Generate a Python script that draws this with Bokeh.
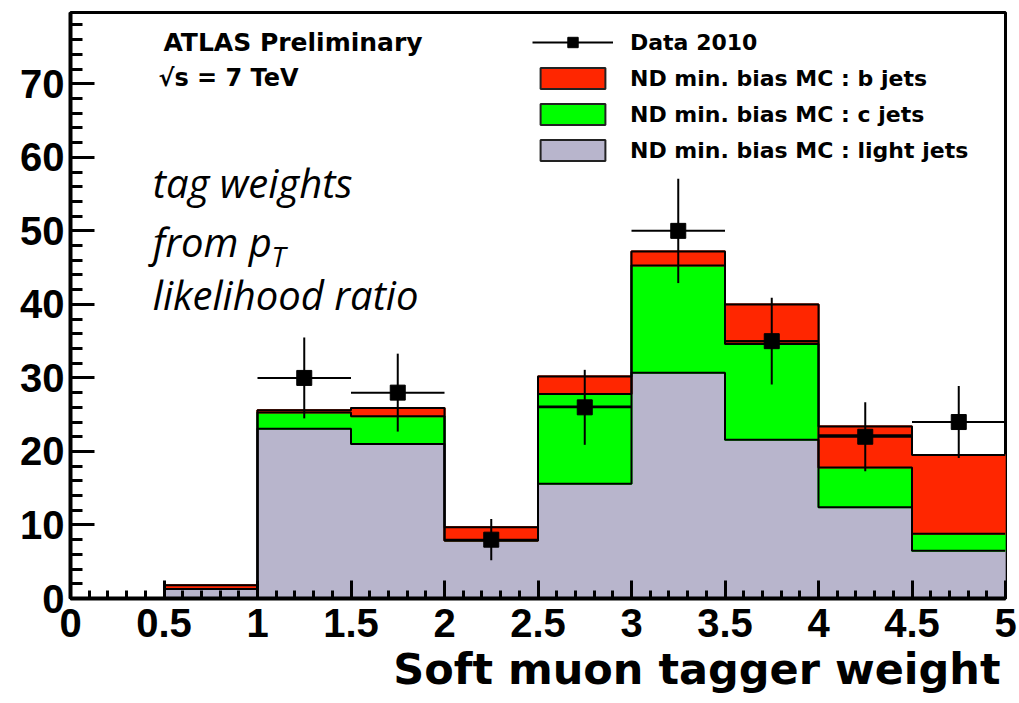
import math

from bokeh.plotting import figure
from bokeh.models import (Range1d, SingleIntervalTicker, CustomJSTickFormatter,
                          Label, Legend, LegendItem, ColumnDataSource, Title)
from bokeh.embed import file_html
from bokeh.resources import INLINE

# ---- histogram contents (10 bins of soft muon tagger weight) ----
bin_edges = [0.0, 0.5, 1.0, 1.5, 2.0, 2.5, 3.0, 3.5, 4.0, 4.5, 5.0]
light_jets = [0.0, 1.3, 23.1, 21.0, 7.9, 15.6, 30.7, 21.6, 12.4, 6.5]
c_jets = [0.0, 0.0, 2.2, 3.8, 0.0, 12.2, 14.6, 13.0, 5.4, 2.3]
b_jets = [0.0, 0.5, 0.3, 1.1, 1.8, 2.4, 1.9, 5.4, 5.6, 10.7]
# additional outline drawn inside the stack for a few bins
overlay_level = [math.nan, math.nan, math.nan, math.nan, math.nan,
                 26.1, math.nan, 35.0, 22.2, math.nan]

# ---- data 2010 ----
data_x = [1.25, 1.75, 2.25, 2.75, 3.25, 3.75, 4.25, 4.75]
data_counts = [30, 28, 8, 26, 50, 35, 22, 24]
data_err = [5.5, 5.3, 2.8, 5.1, 7.1, 5.9, 4.7, 4.9]
half_width = 0.25

legend_labels = ["Data 2010", "ND min. bias MC : b jets",
                 "ND min. bias MC : c jets", "ND min. bias MC : light jets"]

RED = "#ff2600"
GREEN = "#00ff00"
GREY = "#b8b5cc"

lo = bin_edges[:-1]
hi = bin_edges[1:]
light_top = list(light_jets)
c_top = [l + c for l, c in zip(light_jets, c_jets)]
b_top = [t + b for t, b in zip(c_top, b_jets)]

p = figure(width=1019, height=703, output_backend="svg", toolbar_location=None,
           x_range=Range1d(0, 5), y_range=Range1d(0, 79.7),
           min_border_left=70, min_border_right=14, min_border_top=12,
           min_border_bottom=105)
p.background_fill_color = "white"
p.border_fill_color = "white"
p.outline_line_color = "black"
p.outline_line_width = 3
p.xgrid.visible = False
p.ygrid.visible = False

layers = [
    (legend_labels[3], [0] * len(lo), light_top, GREY),
    (legend_labels[2], light_top, c_top, GREEN),
    (legend_labels[1], c_top, b_top, RED),
]

# stacked fills: an outlined pass (also used for the legend swatches),
# then a pass in the fill colour that hides the inner bin borders
swatches = {}
for label, bottom, top, color in layers:
    swatches[label] = p.quad(left=lo, right=hi, bottom=bottom, top=top,
                             fill_color=color, line_color="#222222", line_width=2)
for label, bottom, top, color in layers:
    p.quad(left=lo, right=hi, bottom=bottom, top=top,
           fill_color=color, line_color=color, line_width=2)

# step outlines of each stacked histogram
for tops in (b_top, c_top, light_top):
    p.step(x=bin_edges, y=tops + [tops[-1]], mode="after",
           line_color="black", line_width=2)
p.segment(x0=lo, x1=hi, y0=overlay_level, y1=overlay_level,
          line_color="black", line_width=2)

# data points with error bars
src = ColumnDataSource(dict(
    x=data_x, y=data_counts,
    xl=[x - half_width for x in data_x], xr=[x + half_width for x in data_x],
    yl=[y - e for y, e in zip(data_counts, data_err)],
    yh=[y + e for y, e in zip(data_counts, data_err)]))
h_err = p.segment(x0="xl", x1="xr", y0="y", y1="y", source=src,
                  line_color="black", line_width=2)
p.segment(x0="x", x1="x", y0="yl", y1="yh", source=src,
          line_color="black", line_width=2)
pts = p.scatter(x="x", y="y", source=src, marker="square", size=15,
                fill_color="black", line_color="black")

legend = Legend(items=[
    LegendItem(label=legend_labels[0], renderers=[h_err, pts]),
    LegendItem(label=legend_labels[1], renderers=[swatches[legend_labels[1]]]),
    LegendItem(label=legend_labels[2], renderers=[swatches[legend_labels[2]]]),
    LegendItem(label=legend_labels[3], renderers=[swatches[legend_labels[3]]]),
], location=(462, 435), glyph_width=81, glyph_height=26, label_height=26,
    spacing=10, label_standoff=17, padding=0, margin=0,
    background_fill_alpha=0, border_line_alpha=0,
    label_text_font="DejaVu Sans", label_text_font_style="bold",
    label_text_font_size="22px", label_text_color="black")
p.add_layout(legend)

# axes
fmt = CustomJSTickFormatter(code="return tick.toString();")
xa = p.xaxis[0]
xa.ticker = SingleIntervalTicker(interval=0.5, num_minor_ticks=5)
xa.formatter = fmt
xa.major_tick_in = 18
xa.major_tick_out = 0
xa.minor_tick_in = 8
xa.minor_tick_out = 0
xa.major_label_standoff = 10

ya = p.yaxis[0]
ya.ticker = SingleIntervalTicker(interval=10, num_minor_ticks=5)
ya.formatter = fmt
ya.major_tick_in = 24
ya.major_tick_out = 0
ya.minor_tick_in = 12
ya.minor_tick_out = 0
ya.major_label_standoff = 6

for ax in (xa, ya):
    ax.axis_line_width = 4
    ax.axis_line_color = "black"
    ax.major_tick_line_width = 3
    ax.minor_tick_line_width = 3
    ax.major_tick_line_color = "black"
    ax.minor_tick_line_color = "black"
    ax.major_label_text_font = "Liberation Sans"
    ax.major_label_text_font_style = "bold"
    ax.major_label_text_font_size = "40px"
    ax.major_label_text_color = "black"

# x-axis title, right-aligned under the axis
p.add_layout(Title(text="Soft muon tagger weight", align="right",
                   text_font="DejaVu Sans", text_font_style="bold",
                   text_font_size="43px", text_color="black",
                   standoff=5, offset=5), "below")

# experiment labels
p.add_layout(Label(x=0.497, y=75.6, text="ATLAS Preliminary",
                   text_baseline="alphabetic", text_font="DejaVu Sans",
                   text_font_style="bold", text_font_size="25px",
                   text_color="black"))
p.add_layout(Label(x=0.47, y=70.8, text="\u221as = 7 TeV",
                   text_baseline="alphabetic", text_font="DejaVu Sans",
                   text_font_style="bold", text_font_size="24px",
                   text_color="black"))

# description of the tag weight
for txt, yy in (("tag weights", 56.6), ("from p", 48.6), ("likelihood ratio", 41.4)):
    p.add_layout(Label(x=0.44, y=yy, text=txt, text_baseline="alphabetic",
                       text_font="Open Sans", text_font_style="italic",
                       text_font_size="40px", text_color="black"))
p.add_layout(Label(x=1.075, y=46.6, text="T", text_baseline="alphabetic",
                   text_font="Open Sans", text_font_style="italic",
                   text_font_size="28px", text_color="black"))

open("out.html", "w").write(file_html(p, INLINE))
